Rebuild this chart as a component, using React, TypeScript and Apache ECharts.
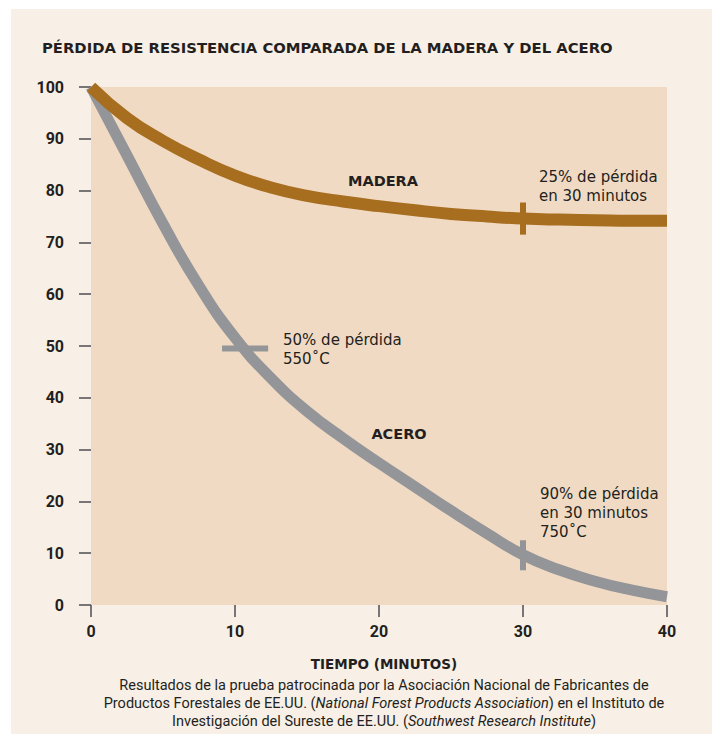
import React, { useEffect, useRef } from "react";
import * as echarts from "echarts";

// ---- data ----
const X_MIN = 0;
const X_MAX = 40;
const X_INTERVAL = 10;
const Y_MIN = 0;
const Y_MAX = 100;
const Y_INTERVAL = 10;

// sample times (min)
const sampleTime = [0, 2.5, 5, 7.5, 10, 12.5, 15, 17.5, 20, 22.5, 25, 27.5, 30, 32.5, 35, 37.5, 40];
// Steel (ACERO) strength retained (%)
const steelValue = [100, 86.8, 73.6, 61.6, 51.6, 43.8, 37.4, 32.2, 27.4, 22.8, 18.2, 13.8, 9.7, 6.8, 4.6, 2.9, 1.6];
// Wood (MADERA) strength retained (%)
const woodValue = [100, 94, 89.6, 86, 82.9, 80.6, 79, 77.9, 77, 76.2, 75.5, 75, 74.6, 74.4, 74.3, 74.2, 74.2];

// marker ticks
const woodMarker = [[30, 71.5], [30, 77.7]];
const steelMarker50 = [[9.1, 49.5], [12.3, 49.5]];
const steelMarker30 = [[30, 6.7], [30, 12.5]];

const TITLE = "PÉRDIDA DE RESISTENCIA COMPARADA DE LA MADERA Y DEL ACERO";
const X_NAME = "TIEMPO (MINUTOS)";
const LABEL_WOOD = "MADERA";
const LABEL_STEEL = "ACERO";
const NOTE_WOOD = "25% de pérdida\nen 30 minutos";
const NOTE_STEEL_50 = "50% de pérdida\n550˚C";
const NOTE_STEEL_90 = "90% de pérdida\nen 30 minutos\n750˚C";
const CAPTION_1 = "Resultados de la prueba patrocinada por la Asociación Nacional de Fabricantes de";
const CAPTION_2 = "Productos Forestales de EE.UU. ({i|National Forest Products Association}) en el Instituto de";
const CAPTION_3 = "Investigación del Sureste de EE.UU. ({i|Southwest Research Institute})";

const BROWN = "#a66e1e";
const GRAY = "#939598";
const TEXT = "#231f20";
const PANEL = "#f8efe6";
const PLOT = "#f1dac3";
const FONT = "Roboto, 'Noto Sans', sans-serif";
const WIDE = "'DejaVu Sans', sans-serif";

const toPairs = (xs: number[], ys: number[]) => xs.map((x, i) => [x, ys[i]]);

export default function App() {
  const ref = useRef<HTMLDivElement>(null);
  useEffect(() => {
    if (!ref.current) return;
    const chart = echarts.init(ref.current, undefined, { renderer: "svg" });
    const capStyle = { fontFamily: FONT, fontSize: 14.5, fill: TEXT, align: "center", verticalAlign: "middle" };
    const noteStyle = { fontFamily: WIDE, fontSize: 15, lineHeight: 19, fill: TEXT, align: "left", verticalAlign: "middle" };
    const boldStyle = { fontFamily: WIDE, fontSize: 14.5, fontWeight: "bold", fill: TEXT, align: "center", verticalAlign: "middle" };
    chart.setOption({
      animation: false,
      backgroundColor: "#ffffff",
      grid: {
        left: 91,
        right: 52,
        top: 87,
        bottom: 129,
        show: true,
        backgroundColor: PLOT,
        borderWidth: 0,
        z: 1,
      },
      xAxis: {
        type: "value",
        min: X_MIN,
        max: X_MAX,
        interval: X_INTERVAL,
        axisLine: { show: false },
        axisTick: { show: true, length: 12, lineStyle: { color: "#4d4d4f", width: 1.5 } },
        axisLabel: { margin: 18, color: TEXT, fontSize: 16, fontWeight: "bold", fontFamily: FONT },
        splitLine: { show: true, showMinLine: false, showMaxLine: false, lineStyle: { color: "#ffffff", width: 1.5 } },
      },
      yAxis: {
        type: "value",
        min: Y_MIN,
        max: Y_MAX,
        interval: Y_INTERVAL,
        axisLine: { show: false },
        axisTick: { show: true, length: 12, lineStyle: { color: "#4d4d4f", width: 1.5 } },
        axisLabel: { margin: 27, color: TEXT, fontSize: 16, fontWeight: "bold", fontFamily: FONT },
        splitLine: { show: true, showMinLine: false, showMaxLine: false, lineStyle: { color: "#ffffff", width: 1.5 } },
      },
      graphic: [
        {
          type: "rect",
          z: -10,
          silent: true,
          shape: { x: 11, y: 9, width: 701, height: 730 },
          style: { fill: PANEL },
        },
        {
          type: "text",
          x: 42,
          y: 47,
          style: { ...boldStyle, text: TITLE, fontSize: 14.8, align: "left" },
        },
        { type: "text", x: 383, y: 181, z: 10, style: { ...boldStyle, text: LABEL_WOOD } },
        { type: "text", x: 399, y: 434, z: 10, style: { ...boldStyle, text: LABEL_STEEL } },
        { type: "text", x: 539, y: 186, z: 10, style: { ...noteStyle, text: NOTE_WOOD } },
        { type: "text", x: 283, y: 349, z: 10, style: { ...noteStyle, text: NOTE_STEEL_50 } },
        { type: "text", x: 540, y: 513, z: 10, style: { ...noteStyle, text: NOTE_STEEL_90 } },
        { type: "text", x: 384, y: 664, style: { ...boldStyle, text: X_NAME, fontSize: 13.5 } },
        { type: "text", x: 384, y: 685, style: { ...capStyle, text: CAPTION_1 } },
        {
          type: "text",
          x: 384,
          y: 703,
          style: { ...capStyle, text: CAPTION_2, rich: { i: { fontFamily: FONT, fontSize: 14.5, fontStyle: "italic", fill: TEXT } } },
        },
        {
          type: "text",
          x: 384,
          y: 721,
          style: { ...capStyle, text: CAPTION_3, rich: { i: { fontFamily: FONT, fontSize: 14.5, fontStyle: "italic", fill: TEXT } } },
        },
      ],
      series: [
        {
          name: LABEL_STEEL,
          type: "line",
          data: toPairs(sampleTime, steelValue),
          smooth: 0.5,
          showSymbol: false,
          silent: true,
          z: 3,
          lineStyle: { color: GRAY, width: 11, cap: "butt" },
        },
        {
          name: "steelMarker50",
          type: "line",
          data: steelMarker50,
          showSymbol: false,
          silent: true,
          z: 4,
          lineStyle: { color: GRAY, width: 6, cap: "butt" },
        },
        {
          name: "steelMarker30",
          type: "line",
          data: steelMarker30,
          showSymbol: false,
          silent: true,
          z: 4,
          lineStyle: { color: GRAY, width: 6, cap: "butt" },
        },
        {
          name: LABEL_WOOD,
          type: "line",
          data: toPairs(sampleTime, woodValue),
          smooth: 0.5,
          showSymbol: false,
          silent: true,
          z: 5,
          lineStyle: { color: BROWN, width: 12, cap: "butt" },
        },
        {
          name: "woodMarker",
          type: "line",
          data: woodMarker,
          showSymbol: false,
          silent: true,
          z: 6,
          lineStyle: { color: BROWN, width: 6, cap: "butt" },
        },
      ],
    });
    return () => chart.dispose();
  }, []);
  return <div ref={ref} style={{ position: "fixed", left: 0, top: 0, width: 719, height: 734 }} />;
}
